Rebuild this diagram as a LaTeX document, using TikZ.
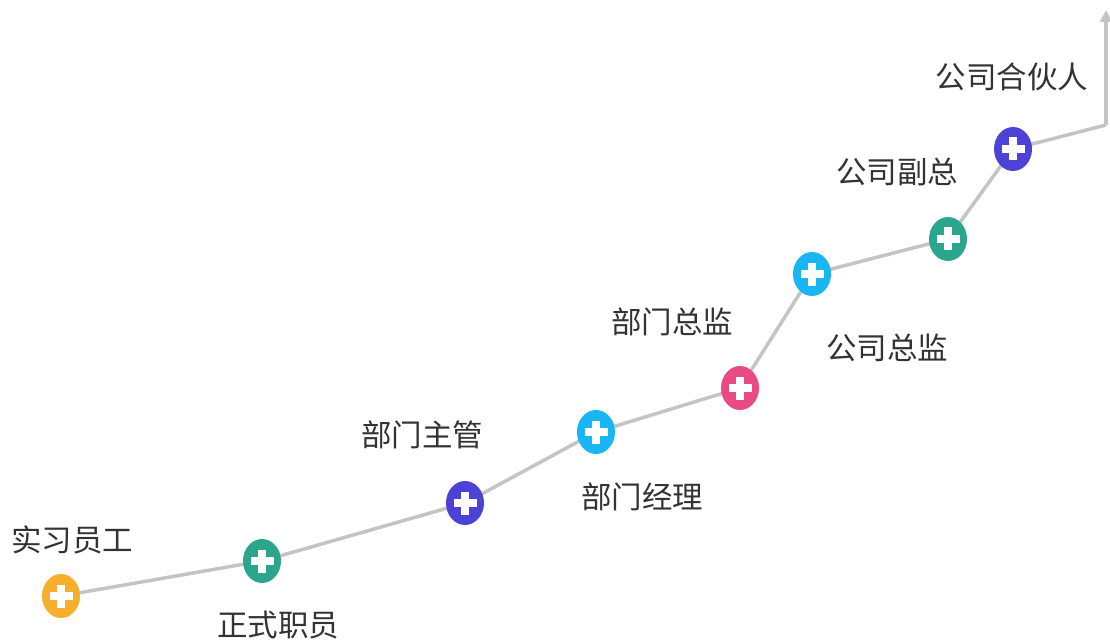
\documentclass[tikz,border=0pt]{standalone}
\usepackage{fontspec}
\newfontfamily\cjk{Noto Sans CJK SC}
\usetikzlibrary{arrows.meta,shapes.geometric}
\definecolor{cOrange}{HTML}{F6AE2D}
\definecolor{cGreen}{HTML}{2BA68C}
\definecolor{cPurple}{HTML}{4C42D6}
\definecolor{cCyan}{HTML}{18B6F2}
\definecolor{cPink}{HTML}{E84A82}
\definecolor{cLine}{HTML}{C4C4C4}
\definecolor{cText}{HTML}{333333}
\tikzset{
  pt/.style={ellipse,minimum width=38pt,minimum height=44pt,inner sep=0pt,fill=#1,
    path picture={\fill[white] ([xshift=-11.5pt,yshift=-4pt]path picture bounding box.center) rectangle ++(23pt,8pt);
                  \fill[white] ([xshift=-4pt,yshift=-11.5pt]path picture bounding box.center) rectangle ++(8pt,23pt);}},
  lbl/.style={font=\cjk\fontsize{30.5pt}{33pt}\selectfont,text=cText,inner sep=0pt},
  conn/.style={draw=cLine,line width=3.5pt}
}
\begin{document}
\begin{tikzpicture}[x=1pt,y=-1pt]
\useasboundingbox (0,0) rectangle (1110,644);
\coordinate (n1c) at (61,596);
\coordinate (n2c) at (262,561);
\coordinate (n3c) at (465,503);
\coordinate (n4c) at (596,432);
\coordinate (n5c) at (740,388);
\coordinate (n6c) at (812,274);
\coordinate (n7c) at (948,239);
\coordinate (n8c) at (1013,149);
\coordinate (bend) at (1106,125);
\coordinate (tip) at (1106,10);
\draw[conn] (n1c) -- (n2c) -- (n3c) -- (n4c) -- (n5c) -- (n6c) -- (n7c) -- (n8c) -- (bend);
\draw[conn,-{Triangle[length=12pt,width=12pt]}] (bend) -- (tip);
\node[pt=cOrange] (n1) at (n1c) {};
\node[pt=cGreen] (n2) at (n2c) {};
\node[pt=cPurple] (n3) at (n3c) {};
\node[pt=cCyan] (n4) at (n4c) {};
\node[pt=cPink] (n5) at (n5c) {};
\node[pt=cCyan] (n6) at (n6c) {};
\node[pt=cGreen] (n7) at (n7c) {};
\node[pt=cPurple] (n8) at (n8c) {};
\node[lbl] (l1) at (72,540) {实习员工};
\node[lbl] (l2) at (278,625) {正式职员};
\node[lbl] (l3) at (422,435) {部门主管};
\node[lbl] (l4) at (642,497) {部门经理};
\node[lbl] (l5) at (672,322) {部门总监};
\node[lbl] (l6) at (887,348) {公司总监};
\node[lbl] (l7) at (897,172) {公司副总};
\node[lbl] (l8) at (1012,77) {公司合伙人};
\end{tikzpicture}
\end{document}
